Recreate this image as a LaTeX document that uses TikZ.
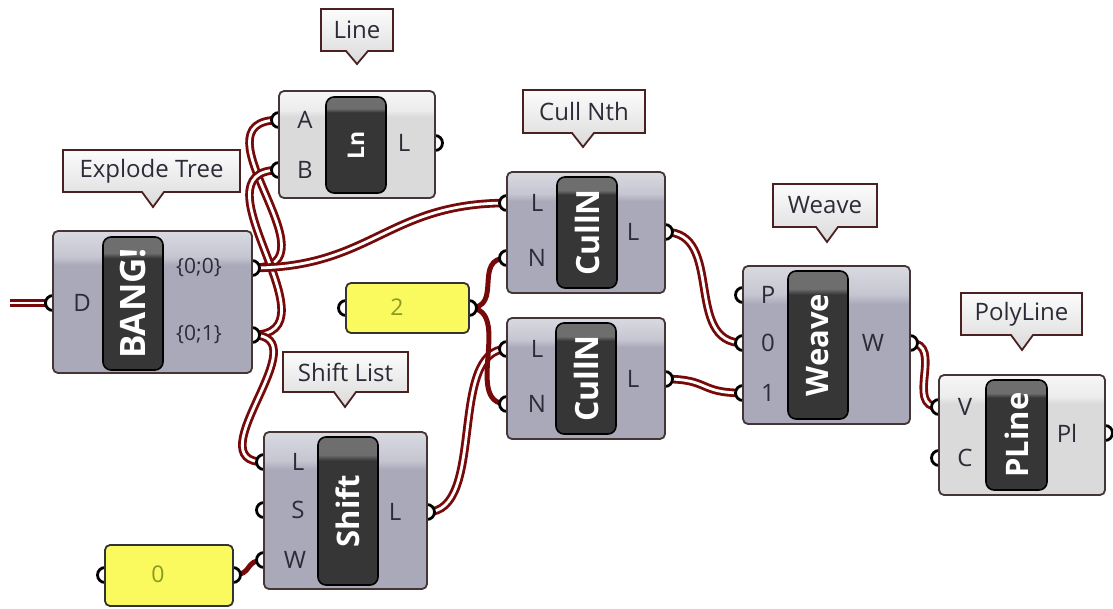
\documentclass[tikz,border=0pt]{standalone}
\usepackage{fontspec}
\setmainfont{Open Sans}
\definecolor{wire}{HTML}{760A0A}
\definecolor{bodyD}{HTML}{A9A9B9}
\definecolor{bodyL}{HTML}{C6C6D2}
\definecolor{bodyT}{HTML}{D9D9E1}
\definecolor{lbodyD}{HTML}{DADADA}
\definecolor{lbodyL}{HTML}{ECECEC}
\definecolor{lbodyT}{HTML}{F6F6F6}
\definecolor{capD}{HTML}{363636}
\definecolor{capL}{HTML}{6E6E6E}
\definecolor{edge}{HTML}{453535}
\definecolor{cedge}{HTML}{4A2020}
\definecolor{callT}{HTML}{FCFCFC}
\definecolor{callD}{HTML}{DADADA}
\definecolor{ylw}{HTML}{FAFA5E}
\definecolor{numtxt}{HTML}{8A9A22}
\definecolor{lbl}{HTML}{2C2C38}
\pgfdeclareverticalshading{bodyshade}{100bp}{color(0bp)=(bodyD); color(63bp)=(bodyD); color(66bp)=(bodyL); color(75bp)=(bodyT); color(100bp)=(bodyT)}
\pgfdeclareverticalshading{lbodyshade}{100bp}{color(0bp)=(lbodyD); color(63bp)=(lbodyD); color(66bp)=(lbodyL); color(75bp)=(lbodyT); color(100bp)=(lbodyT)}
\pgfdeclareverticalshading{capshade}{100bp}{color(0bp)=(capD); color(67bp)=(capD); color(69bp)=(capL); color(75bp)=(capL); color(100bp)=(capL)}
\pgfdeclareverticalshading{callshade}{100bp}{color(0bp)=(callD); color(25bp)=(callD); color(75bp)=(callT); color(100bp)=(callT)}
\tikzset{
  dwire/.style={draw=wire, line width=8.5pt, postaction={draw=white, line width=2.8pt}},
  swire/.style={draw=wire, line width=5pt},
  grip/.style={circle, minimum size=15pt, inner sep=0pt, fill=white, draw=black, line width=2.8pt},
  gbody/.style={rectangle, rounded corners=5pt, shading=bodyshade, draw=edge, line width=1.8pt, inner sep=0pt},
  lbody/.style={rectangle, rounded corners=5pt, shading=lbodyshade, draw=edge, line width=1.8pt, inner sep=0pt},
  capsule/.style={rectangle, rounded corners=8pt, shading=capshade, draw=black, line width=1.6pt, inner sep=0pt},
  captext/.style={rotate=90, text=white, font=\fontsize{#1}{#1}\selectfont\bfseries, inner sep=0pt},
  captext/.default=31,
  plabel/.style={text=lbl, font=\fontsize{24}{28}\selectfont, inner sep=0pt},
  slabel/.style={text=lbl, font=\fontsize{21}{24}\selectfont, inner sep=0pt},
  slider/.style={rectangle, rounded corners=5pt, fill=ylw, draw=black!80, line width=1.8pt, inner sep=0pt},
  numtext/.style={text=numtxt, font=\fontsize{23}{26}\selectfont, inner sep=0pt},
  callout/.style={shading=callshade, draw=cedge, line width=1.8pt, line join=miter},
  ctext/.style={text=lbl, font=\fontsize{24}{28}\selectfont, inner sep=0pt}
}
\newcommand\gcallout[8]{%
  \path[callout] (#1,#2) -- (#3,#2) -- (#3,#4) -- ({#5+11},#4) -- (#5,#6) -- ({#5-11},#4) -- (#1,#4) -- cycle;
  \node[ctext] (#7) at ({(#1+#3)/2},{(#2+#4)/2}) {#8};}
\begin{document}
\begin{tikzpicture}[x=1pt, y=-1pt]
\useasboundingbox (0,0) rectangle (1113,608);
% port coordinates
\coordinate (inStub) at (10,303);
\coordinate (bangD) at (53,303);
\coordinate (bangA) at (252,268);
\coordinate (bangB) at (252,335);
\coordinate (lnA) at (279,120);
\coordinate (lnB) at (279,170);
\coordinate (lnL) at (435,143);
\coordinate (caL) at (507,203);
\coordinate (caN) at (507,258);
\coordinate (caO) at (665,232);
\coordinate (cbL) at (507,349);
\coordinate (cbN) at (507,404);
\coordinate (cbO) at (665,379);
\coordinate (wvP) at (743,295);
\coordinate (wv0) at (743,343);
\coordinate (wv1) at (743,393);
\coordinate (wvW) at (910,343);
\coordinate (plV) at (939,407);
\coordinate (plC) at (939,458);
\coordinate (plO) at (1105,433);
\coordinate (shL) at (264,462);
\coordinate (shS) at (264,510);
\coordinate (shW) at (264,560);
\coordinate (shO) at (427,512);
\coordinate (s2I) at (346,308);
\coordinate (s2O) at (469,308);
\coordinate (s0I) at (105,575);
\coordinate (s0O) at (233,575);
% wires
\draw[dwire] (inStub) -- (bangD);
\draw[dwire] (bangA) .. controls +(90,0) and +(-90,0) .. (lnA);
\draw[dwire] (bangB) .. controls +(90,0) and +(-90,0) .. (lnB);
\draw[dwire] (bangA) .. controls +(120,0) and +(-120,0) .. (caL);
\draw[dwire] (bangB) .. controls +(70,0) and +(-70,0) .. (shL);
\draw[dwire] (shO) .. controls +(60,0) and +(-60,0) .. (cbL);
\draw[dwire] (caO) .. controls +(60,0) and +(-60,0) .. (wv0);
\draw[dwire] (cbO) .. controls +(45,0) and +(-45,0) .. (wv1);
\draw[dwire] (wvW) .. controls +(35,0) and +(-35,0) .. (plV);
\draw[swire] (s2O) .. controls +(35,0) and +(-35,0) .. (caN);
\draw[swire] (s2O) .. controls +(45,0) and +(-45,0) .. (cbN);
\draw[swire] (s0O) .. controls +(20,0) and +(-20,0) .. (shW);
% grips
\foreach \p in {bangD,bangA,bangB,lnA,lnB,lnL,caL,caN,caO,cbL,cbN,cbO,wvP,wv0,wv1,wvW,plV,plC,plO,shL,shS,shW,shO,s2I,s2O,s0I,s0O}
  \node[grip] (g\p) at (\p) {};
% Explode Tree
\node[gbody, minimum width=199pt, minimum height=142pt] (bang) at (152.5,302) {};
\node[capsule, minimum width=60pt, minimum height=133pt] (bangcap) at (133,303.5) {};
\node[captext=35] (bangtxt) at (bangcap) {BANG!};
\node[plabel] (bangDl) at (82,303) {D};
\node[slabel] (bangAl) at (199,268) {\{0;0\}};
\node[slabel] (bangBl) at (199,335) {\{0;1\}};
\gcallout{63}{150}{240}{192}{153}{207}{bangcall}{Explode Tree}
% Line
\node[lbody, minimum width=156pt, minimum height=107pt] (ln) at (357,144.5) {};
\node[capsule, minimum width=60pt, minimum height=96pt] (lncap) at (356,145) {};
\node[captext=23] (lntxt) at (lncap) {Ln};
\node[plabel] (lnAl) at (305,120) {A};
\node[plabel] (lnBl) at (305,170) {B};
\node[plabel] (lnLl) at (404,143) {L};
\gcallout{321}{9}{393}{51}{357}{64}{lncall}{Line}
% Cull Nth (top)
\node[gbody, minimum width=158pt, minimum height=121pt] (ca) at (586,232.5) {};
\node[capsule, minimum width=60pt, minimum height=111pt] (cacap) at (587,232.5) {};
\node[captext=32] (catxt) at (cacap) {CullN};
\node[plabel] (caLl) at (537,203) {L};
\node[plabel] (caNl) at (537,258) {N};
\node[plabel] (caOl) at (633,232) {L};
\gcallout{523}{90}{645}{133}{583}{147}{cacall}{Cull Nth}
% Cull Nth (bottom)
\node[gbody, minimum width=158pt, minimum height=121pt] (cb) at (586,378.5) {};
\node[capsule, minimum width=60pt, minimum height=111pt] (cbcap) at (586,378.5) {};
\node[captext=32] (cbtxt) at (cbcap) {CullN};
\node[plabel] (cbLl) at (537,349) {L};
\node[plabel] (cbNl) at (537,404) {N};
\node[plabel] (cbOl) at (633,379) {L};
% Weave
\node[gbody, minimum width=167pt, minimum height=158pt] (wv) at (826.5,345) {};
\node[capsule, minimum width=60pt, minimum height=148pt] (wvcap) at (818,345) {};
\node[captext=31] (wvtxt) at (wvcap) {Weave};
\node[plabel] (wvPl) at (768,295) {P};
\node[plabel] (wv0l) at (768,343) {0};
\node[plabel] (wv1l) at (768,393) {1};
\node[plabel] (wvWl) at (873,343) {W};
\gcallout{773}{184}{877}{227}{827}{242}{wvcall}{Weave}
% PLine
\node[lbody, minimum width=166pt, minimum height=120pt] (pl) at (1022,435) {};
\node[capsule, minimum width=61pt, minimum height=110pt] (plcap) at (1016.5,435) {};
\node[captext=31] (pltxt) at (plcap) {PLine};
\node[plabel] (plVl) at (965,407) {V};
\node[plabel] (plCl) at (965,458) {C};
\node[plabel] (plOl) at (1067,433) {Pl};
\gcallout{961}{293}{1082}{335}{1022}{350}{plcall}{PolyLine}
% Shift
\node[gbody, minimum width=163pt, minimum height=157pt] (sh) at (345.5,510.5) {};
\node[capsule, minimum width=60pt, minimum height=148pt] (shcap) at (348,511) {};
\node[captext=31] (shtxt) at (shcap) {Shift};
\node[plabel] (shLl) at (298,462) {L};
\node[plabel] (shSl) at (298,510) {S};
\node[plabel] (shWl) at (295,560) {W};
\node[plabel] (shOl) at (395,512) {L};
\gcallout{283}{352}{408}{392}{345}{407}{shcall}{Shift List}
% sliders
\node[slider, minimum width=123pt, minimum height=50pt] (s2) at (407.5,308) {};
\node[numtext] (s2t) at (397,307) {2};
\node[slider, minimum width=128pt, minimum height=61pt] (s0) at (169,575.5) {};
\node[numtext] (s0t) at (158,574) {0};
\end{tikzpicture}
\end{document}
